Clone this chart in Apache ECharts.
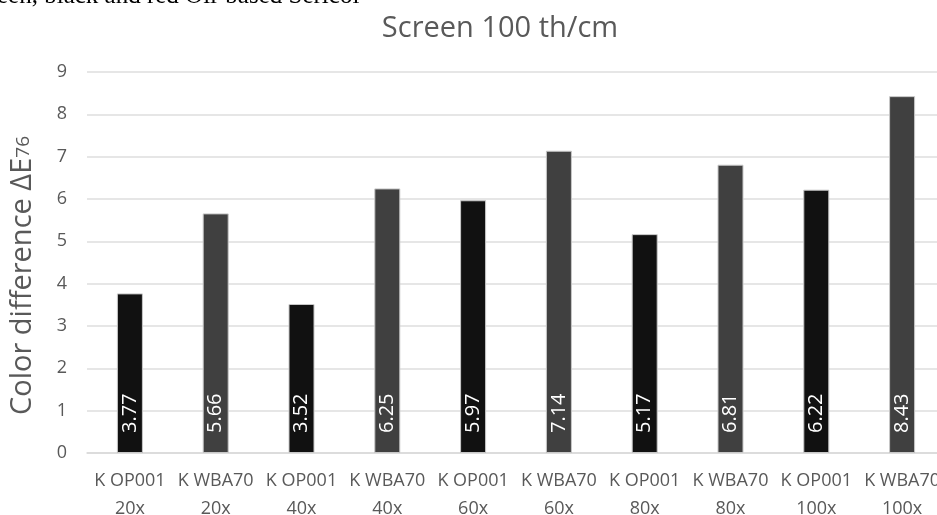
<!DOCTYPE html>
<html>
<head>
<meta charset="utf-8">
<script src="https://cdn.jsdelivr.net/npm/echarts@6/dist/echarts.min.js"></script>
<style>
  html, body { margin: 0; padding: 0; background: #ffffff; }
  #chart { width: 937px; height: 515px; }
</style>
</head>
<body>
<div id="chart"></div>
<script>
// Ink / magnification combinations along the x axis
const categories = [
  'K OP001\n20x', 'K WBA70\n20x', 'K OP001\n40x', 'K WBA70\n40x',
  'K OP001\n60x', 'K WBA70\n60x', 'K OP001\n80x', 'K WBA70\n80x',
  'K OP001\n100x', 'K WBA70\n100x'
];
// Colour difference ΔE76 for each combination
const deltaE = [3.77, 5.66, 3.52, 6.25, 5.97, 7.14, 5.17, 6.81, 6.22, 8.43];
// Ink of each bar (used for the fill colour)
const inks = ['OP001', 'WBA70', 'OP001', 'WBA70', 'OP001', 'WBA70', 'OP001', 'WBA70', 'OP001', 'WBA70'];
// Y axis ticks
const yTicks = [0, 1, 2, 3, 4, 5, 6, 7, 8, 9];

const inkColor = { OP001: '#111111', WBA70: '#404040' };
const textGray = '#595959';
const font = '"Open Sans", "Noto Sans", sans-serif';

const chart = echarts.init(document.getElementById('chart'), null, { renderer: 'canvas' });

chart.setOption({
  animation: false,
  backgroundColor: '#ffffff',
  title: {
    text: 'Screen 100 th/cm',
    left: 495,
    top: 9,
    textAlign: 'center',
    textStyle: { fontFamily: font, fontSize: 29, fontWeight: 'normal', color: textGray }
  },
  graphic: [{
    type: 'text',
    left: -3,
    top: -16,
    style: {
      text: 'een, black and red Oil-based Sericol',
      font: '25px "Liberation Serif", "DejaVu Serif", serif',
      fill: '#000000'
    }
  }],
  grid: {
    left: 87, right: -8, top: 72, bottom: 62,
    containLabel: false,
    outerBoundsMode: 'none'
  },
  xAxis: {
    type: 'category',
    data: categories,
    axisTick: { show: false },
    axisLine: { lineStyle: { color: '#d9d9d9', width: 1.5 } },
    axisLabel: {
      color: textGray, fontFamily: font, fontSize: 18, lineHeight: 28,
      margin: 14, interval: 0
    }
  },
  yAxis: {
    type: 'value',
    min: yTicks[0],
    max: yTicks[yTicks.length - 1],
    interval: 1,
    name: '{a|Color difference ΔE}{b|76}',
    nameLocation: 'middle',
    nameGap: 50,
    nameTextStyle: {
      padding: [0, 0, 0, -26],
      rich: {
        a: { fontFamily: font, fontSize: 29, color: textGray },
        b: { fontFamily: font, fontSize: 19, color: textGray, padding: [0, 0, -2, 0] }
      }
    },
    axisLine: { show: false },
    axisTick: { show: false },
    axisLabel: { color: textGray, fontFamily: font, fontSize: 18, margin: 20 },
    splitLine: { lineStyle: { color: '#dedede', width: 1.5 } }
  },
  series: [{
    type: 'bar',
    barWidth: 26,
    data: deltaE.map((v, i) => ({
      value: v,
      itemStyle: { color: inkColor[inks[i]] }
    })),
    itemStyle: { borderColor: '#c8c8c8', borderWidth: 1 },
    label: {
      show: true,
      position: 'insideBottom',
      rotate: 90,
      align: 'left',
      verticalAlign: 'middle',
      distance: 20,
      color: '#ffffff',
      fontFamily: font,
      fontSize: 20,
      formatter: p => p.value.toFixed(2)
    }
  }]
});
</script>
</body>
</html>
